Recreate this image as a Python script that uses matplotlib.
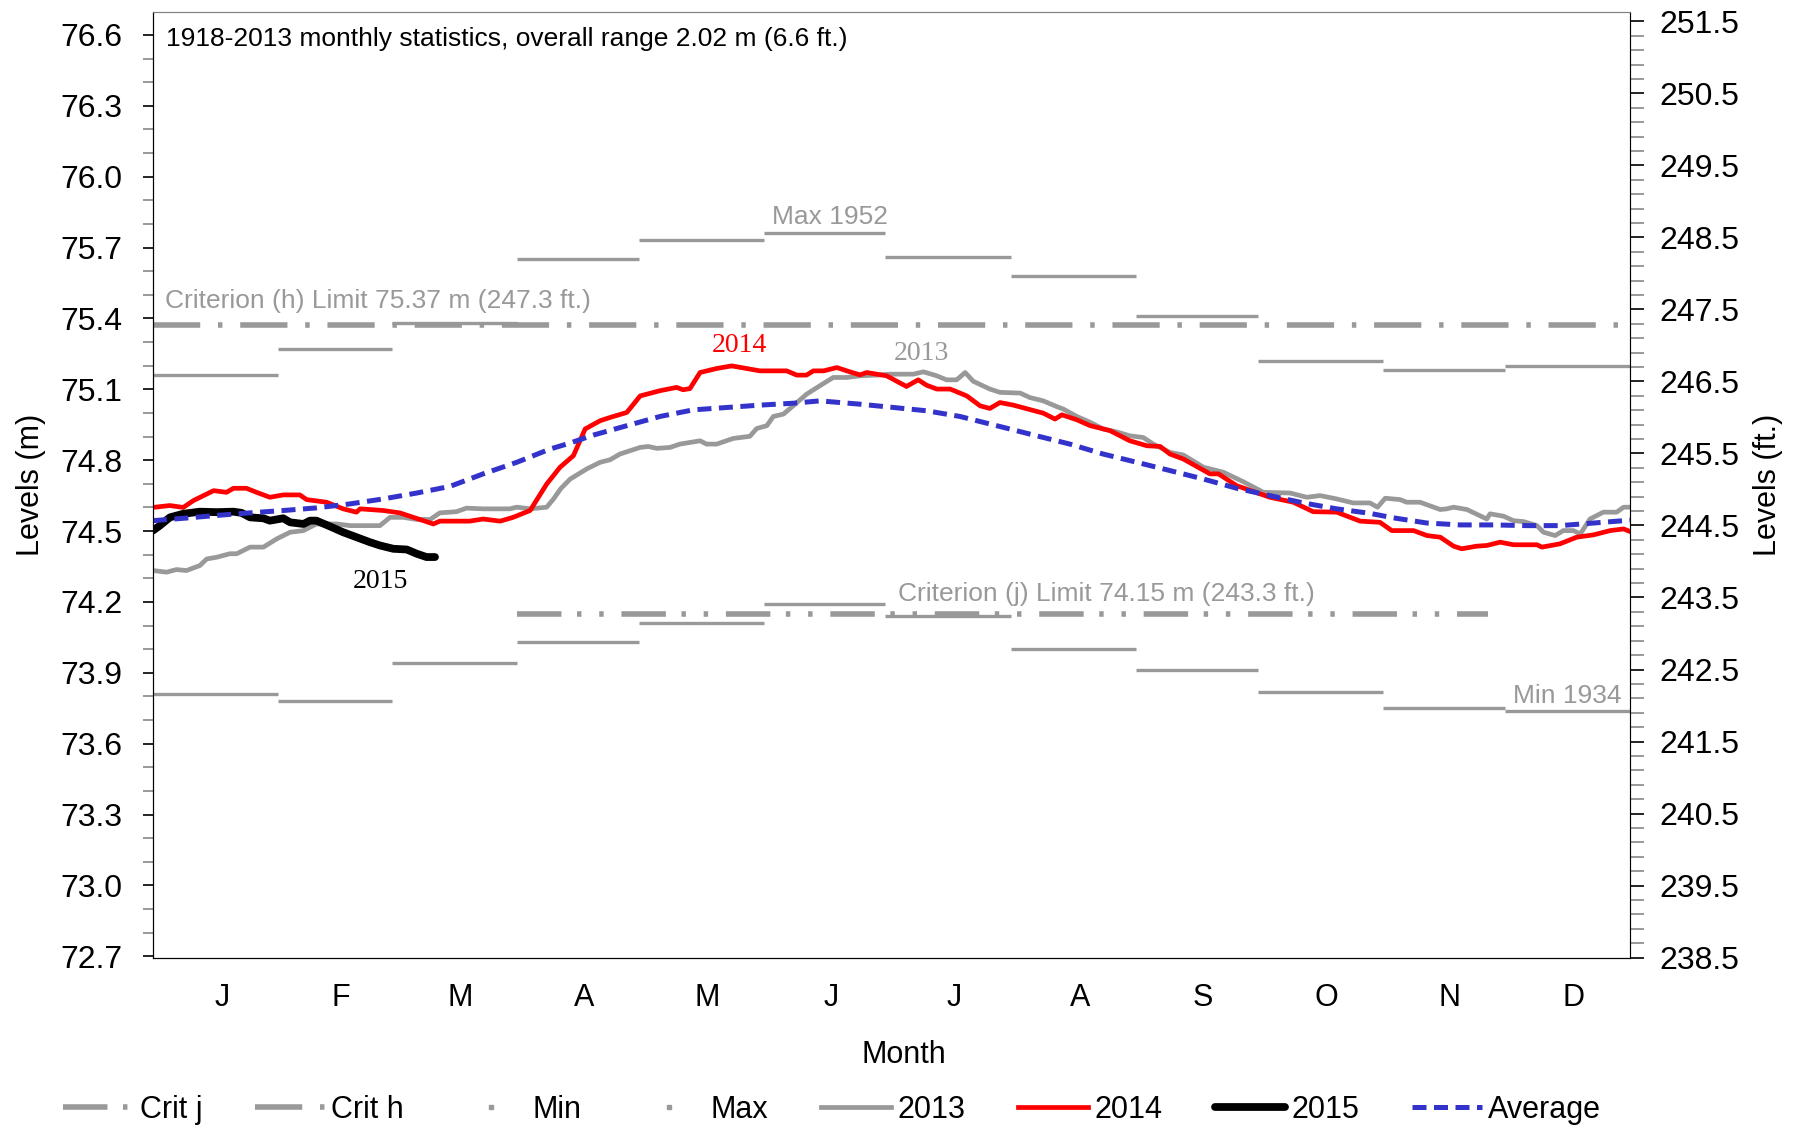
import numpy as np
import matplotlib
matplotlib.use("Agg")
from matplotlib import pyplot as plt
from matplotlib.lines import Line2D
from matplotlib.ticker import FixedLocator, MultipleLocator, FormatStrFormatter

plt.rcParams['font.family'] = ['Liberation Sans', 'DejaVu Sans']

# month letters and month boundaries (day of year)
months = ['J', 'F', 'M', 'A', 'M', 'J', 'J', 'A', 'S', 'O', 'N', 'D']
month_edges = [0, 31, 59, 90, 120, 151, 181, 212, 243, 273, 304, 334, 365]

# 1918-2013 monthly extremes (m)
max_levels = [75.16, 75.27, 75.38, 75.65, 75.73, 75.76, 75.66, 75.58, 75.41, 75.22, 75.18, 75.20]
min_levels = [73.81, 73.78, 73.94, 74.03, 74.11, 74.19, 74.14, 74.00, 73.91, 73.82, 73.75, 73.74]

crit_h = 75.37
crit_j = 74.15
crit_j_days = [90, 330]

# daily levels (day of year, m)
days_2013 = [0, 3.4, 5.8, 8.3, 11.6, 13.3, 15.7, 19, 20.7, 24, 27.3, 30.6, 33.9, 37.2, 40.4,
             45.4, 48.7, 52.8, 56.1, 58.6, 61.9, 65.2, 68.5, 70.9, 75, 77.5, 81.6, 88.2, 89.9,
             93.2, 97.3, 99, 100.8, 103.1, 107.2, 110.5, 113, 115.4, 120.4, 122.4, 124.5, 127.8,
             130.2, 135.2, 136.8, 139.3, 143.4, 147.5, 149.2, 151.7, 153.3, 155.8, 158.2, 161.5,
             164.8, 168.1, 171.4, 174.7, 178.8, 182.1, 187.9, 190.4, 193.7, 196.1, 198.6, 200.7,
             202.7, 206.8, 209.3, 214.3, 216.7, 220, 223.3, 225, 228.3, 231.6, 234.8, 238.1,
             241.4, 244.7, 247.2, 251.3, 254.6, 259.6, 264.5, 269.4, 274.4, 281, 285.1, 288.4,
             292.5, 296.6, 300.7, 302.6, 304.5, 308.2, 309.8, 313.1, 318.1, 319.7, 321.4, 324.7,
             329.6, 330.4, 333.7, 336.2, 338.7, 342, 343.6, 346.5, 348.5, 351, 352.7, 355.1,
             358.4, 361.7, 363.4, 365]
levels_2013 = [74.333, 74.326, 74.337, 74.333, 74.354, 74.382, 74.389, 74.404, 74.404, 74.432,
               74.432, 74.467, 74.495, 74.502, 74.530, 74.530, 74.523, 74.523, 74.523, 74.558,
               74.558, 74.549, 74.549, 74.577, 74.582, 74.597, 74.594, 74.594, 74.601, 74.594,
               74.601, 74.636, 74.680, 74.720, 74.763, 74.791, 74.802, 74.826, 74.854, 74.858,
               74.850, 74.854, 74.868, 74.882, 74.868, 74.868, 74.892, 74.901, 74.934, 74.946,
               74.985, 74.995, 75.030, 75.079, 75.115, 75.150, 75.150, 75.157, 75.160, 75.164,
               75.164, 75.174, 75.157, 75.140, 75.140, 75.171, 75.134, 75.101, 75.087, 75.084,
               75.065, 75.051, 75.027, 75.016, 74.985, 74.960, 74.932, 74.920, 74.903, 74.896,
               74.868, 74.833, 74.822, 74.770, 74.749, 74.709, 74.664, 74.661, 74.643, 74.650,
               74.636, 74.619, 74.619, 74.601, 74.639, 74.633, 74.622, 74.622, 74.591, 74.594,
               74.601, 74.591, 74.551, 74.573, 74.563, 74.544, 74.540, 74.523, 74.495, 74.481,
               74.502, 74.502, 74.488, 74.551, 74.580, 74.580, 74.601, 74.601]

days_2014 = [0, 4.2, 7.5, 10, 15, 18.2, 19.9, 23.1, 25.6, 28.9, 32.2, 36.3, 38, 42.9, 47, 50.3,
             51.2, 56.9, 61, 69.3, 70.9, 78.3, 81.6, 85.8, 89, 93.2, 97.3, 100.6, 103.9, 106.8,
             110.5, 113, 117.1, 120.4, 125.3, 129.4, 131, 132.7, 135.2, 139.3, 143, 146.7, 150,
             156.6, 159.1, 161.5, 163.2, 165.7, 169, 172.2, 174.7, 176.4, 181.3, 186.2, 189.1,
             191.2, 193.7, 197, 201.1, 204.4, 206.8, 209.3, 212.6, 216.3, 220, 222.9, 224.6,
             228.3, 231.6, 236.5, 241.4, 245.6, 248.9, 251.3, 254.6, 261.2, 263.3, 267.8, 276,
             281.8, 286.7, 292.5, 298.3, 303.2, 306.1, 311.5, 314.8, 318.1, 321.4, 323.4, 327.1,
             329.6, 332.9, 336.2, 342, 343.2, 347.7, 351.8, 356, 360.1, 363.4, 365]
levels_2014 = [74.600, 74.608, 74.600, 74.629, 74.671, 74.664, 74.681, 74.681, 74.664, 74.643,
               74.653, 74.653, 74.633, 74.622, 74.594, 74.580, 74.594, 74.587, 74.577, 74.530,
               74.542, 74.542, 74.551, 74.542, 74.558, 74.587, 74.699, 74.770, 74.819, 74.932,
               74.967, 74.981, 75.002, 75.072, 75.094, 75.108, 75.098, 75.103, 75.171, 75.188,
               75.199, 75.188, 75.178, 75.178, 75.160, 75.160, 75.178, 75.178, 75.192, 75.174,
               75.161, 75.171, 75.157, 75.112, 75.140, 75.117, 75.101, 75.101, 75.072, 75.030,
               75.019, 75.044, 75.033, 75.016, 74.999, 74.974, 74.992, 74.971, 74.946, 74.925,
               74.882, 74.861, 74.858, 74.826, 74.805, 74.742, 74.742, 74.692, 74.643, 74.622,
               74.582, 74.580, 74.542, 74.537, 74.502, 74.502, 74.481, 74.474, 74.436, 74.425,
               74.436, 74.439, 74.453, 74.442, 74.442, 74.432, 74.446, 74.474, 74.484, 74.502,
               74.509, 74.498]

days_2015 = [0, 1.7, 4.2, 7.5, 11.6, 15.7, 19.9, 21.9, 24, 27.3, 28.9, 32.2, 33.9, 37.2, 38.8,
             40.4, 43.7, 47, 50.3, 53.6, 56.1, 59.4, 62.7, 65.2, 67.6, 69.7]
levels_2015 = [74.502, 74.523, 74.558, 74.573, 74.582, 74.580, 74.582, 74.577, 74.558, 74.554,
               74.544, 74.554, 74.537, 74.530, 74.544, 74.544, 74.520, 74.495, 74.474, 74.453,
               74.439, 74.425, 74.422, 74.404, 74.390, 74.390]

days_avg = [0, 7.5, 15.7, 24, 32.2, 40.4, 48.7, 56.9, 65.2, 73.4, 81.6, 89.9, 98.1, 103, 108.8,
            117.1, 125.3, 133.5, 141.8, 150, 158.2, 164.8, 174.7, 183, 191.2, 199.4, 210.1,
            218.4, 226.6, 234.8, 243.1, 251.3, 259.6, 267.8, 276, 284.3, 292.5, 300.7, 306.5,
            314.8, 323, 331.2, 339.5, 347.7, 356, 365]
levels_avg = [74.544, 74.554, 74.566, 74.577, 74.587, 74.598, 74.615, 74.636, 74.661, 74.689,
              74.742, 74.791, 74.847, 74.872, 74.906, 74.946, 74.985, 75.013, 75.023, 75.033,
              75.041, 75.051, 75.037, 75.023, 75.009, 74.985, 74.939, 74.903, 74.868, 74.826,
              74.791, 74.756, 74.720, 74.681, 74.650, 74.619, 74.594, 74.575, 74.556, 74.534,
              74.526, 74.526, 74.523, 74.523, 74.534, 74.546]

M_TO_FT = 3.28084
GRAY = '#999999'

fig = plt.figure(figsize=(17.99, 11.28), dpi=100)
ax = fig.add_axes([0.0850, 0.1507, 0.8211, 0.8387])

# monthly max / min bars
ax.hlines(max_levels, month_edges[:-1], month_edges[1:], color=GRAY, lw=2.4, zorder=2)
ax.hlines(min_levels, month_edges[:-1], month_edges[1:], color=GRAY, lw=2.4, zorder=2)

# criterion lines
h_line, = ax.plot([0, 365], [crit_h, crit_h], color=GRAY, lw=4,
                  linestyle=(0, (8.5, 3.2, 0.8, 3.2)), label='Crit h', zorder=2)
j_line, = ax.plot(crit_j_days, [crit_j, crit_j], color=GRAY, lw=4,
                  linestyle=(0, (8, 2.8, 0.8, 3.2, 0.8, 3.2)), label='Crit j', zorder=2)

l13, = ax.plot(days_2013, levels_2013, color=GRAY, lw=3.4, label='2013', zorder=3)
l14, = ax.plot(days_2014, levels_2014, color='#ff0000', lw=3.4, label='2014', zorder=4)
l15, = ax.plot(days_2015, levels_2015, color='black', lw=5.6, label='2015', zorder=5,
               solid_capstyle='round')
lavg, = ax.plot(days_avg, levels_avg, color='#3333cc', lw=3.6, linestyle=(0, (2.8, 1.5)),
                label='Average', zorder=6)

# annotations
ax.text(3.2, 76.583, '1918-2013 monthly statistics, overall range 2.02 m (6.6 ft.)',
        fontsize=19, va='center', ha='left', color='black')
ax.text(3, 75.472, 'Criterion (h) Limit 75.37 m (247.3 ft.)', fontsize=19,
        va='center', ha='left', color=GRAY)
ax.text(153, 75.831, 'Max 1952', fontsize=19, va='center', ha='left', color=GRAY)
ax.text(184, 74.234, 'Criterion (j) Limit 74.15 m (243.3 ft.)', fontsize=19,
        va='center', ha='left', color=GRAY)
ax.text(363, 73.803, 'Min 1934', fontsize=19, va='center', ha='right', color=GRAY)
ax.text(145, 75.285, '2014', fontsize=20, family='Liberation Serif', va='center',
        ha='center', color='#ff0000')
ax.text(189.8, 75.251, '2013', fontsize=20, family='Liberation Serif', va='center',
        ha='center', color=GRAY)
ax.text(56.3, 74.287, '2015', fontsize=20, family='Liberation Serif', va='center',
        ha='center', color='black')

# axes setup
ax.set_xlim(0, 365)
ax.set_ylim(72.693, 76.697)
mids = [(a + b) / 2 + 1.5 for a, b in zip(month_edges[:-1], month_edges[1:])]
ax.set_xticks(mids)
ax.set_xticklabels(months, fontsize=22)
ax.tick_params(axis='x', length=0, pad=18)
ax.set_xlabel('Month', fontsize=22)
ax.xaxis.set_label_coords(0.5085, -0.087)

ax.yaxis.set_major_locator(FixedLocator(np.arange(72.7, 76.65, 0.3)))
ax.yaxis.set_major_formatter(FormatStrFormatter('%.1f'))
ax.yaxis.set_minor_locator(MultipleLocator(0.1))
ax.tick_params(axis='y', which='major', labelsize=23, length=7, width=1.2, pad=15)
ax.tick_params(axis='y', which='minor', length=7, width=1.2, color='#888888')
ax.set_ylabel('Levels (m)', fontsize=22, labelpad=10)

for s in ['top', 'right']:
    ax.spines[s].set_color('#808080')

ax2 = ax.twinx()
ax2.set_ylim(72.693 * M_TO_FT, 76.697 * M_TO_FT)
ax2.yaxis.set_major_locator(FixedLocator(np.arange(238.5, 251.6, 1.0)))
ax2.yaxis.set_major_formatter(FormatStrFormatter('%.1f'))
ax2.yaxis.set_minor_locator(FixedLocator(np.arange(238.5, 251.7, 0.2)))
ax2.tick_params(axis='y', which='major', labelsize=23, length=10, width=1.2, pad=11)
ax2.tick_params(axis='y', which='minor', length=10, width=1.2, color='#888888')
ax2.set_ylabel('Levels (ft.)', fontsize=22, labelpad=10)
ax2.spines['right'].set_color('black')
ax2.spines['top'].set_color('#808080')

# legend
min_h = Line2D([], [], color=GRAY, ls='none', marker='s', ms=3)
max_h = Line2D([], [], color=GRAY, ls='none', marker='s', ms=3)
fig.legend([j_line, h_line, min_h, max_h, l13, l14, l15, lavg],
           ['Crit j', 'Crit h', 'Min', 'Max', '2013', '2014', '2015', 'Average'],
           loc='center', bbox_to_anchor=(0.4625, 0.016), ncol=8, fontsize=22,
           frameon=False, handlelength=2.3, handletextpad=0.2, columnspacing=1.72,
           numpoints=1, borderaxespad=0)

fig.savefig('out.png', dpi=100)
